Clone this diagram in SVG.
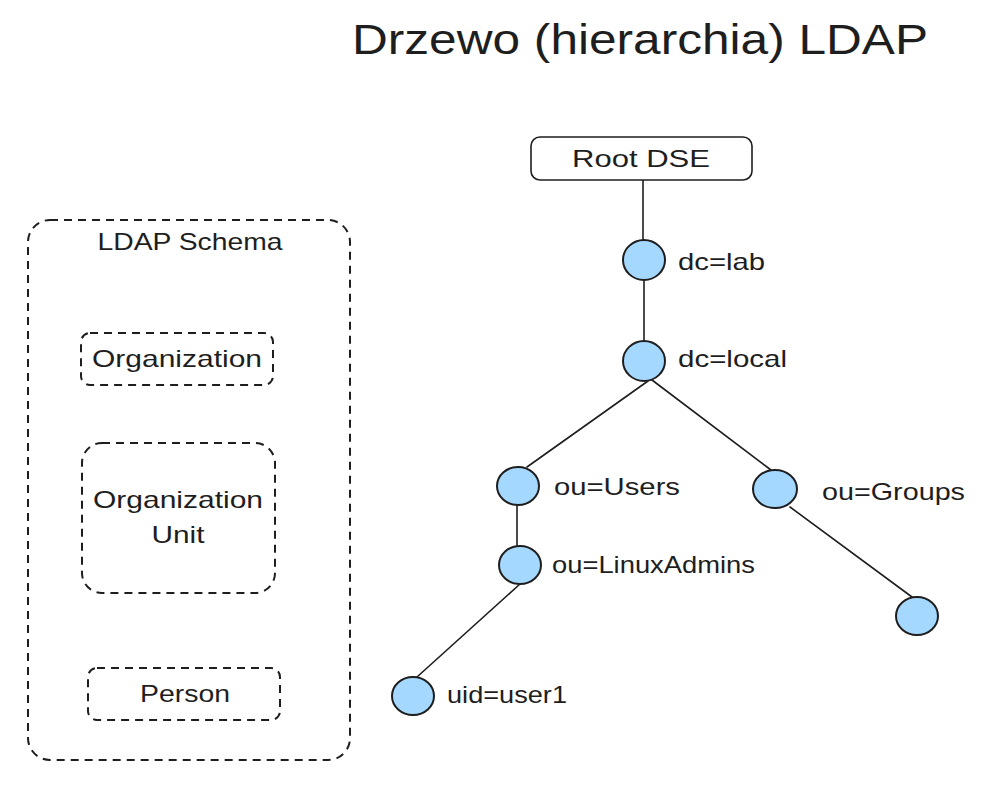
<svg xmlns="http://www.w3.org/2000/svg" width="1003" height="801" viewBox="0 0 1003 801">
<style>
text{font-family:"Liberation Sans",Arial,sans-serif;fill:#1e1e1e;font-size:24px}
.t{font-size:42px}
.dash{fill:none;stroke:#1e1e1e;stroke-width:2;stroke-dasharray:8 6}
.node{fill:#a5d8ff;stroke:#1e1e1e;stroke-width:2}
.box{fill:#fff;stroke:#1e1e1e;stroke-width:1.6}
.edge{fill:none;stroke:#1e1e1e;stroke-width:1.6;stroke-linecap:round}
</style>
<rect width="1003" height="801" fill="#fff"/>
<text class="t" x="352" y="54" textLength="576" lengthAdjust="spacingAndGlyphs">Drzewo (hierarchia) LDAP</text>
<g id="connectors">
<line class="edge" x1="643" y1="180" x2="643" y2="240"/>
<line class="edge" x1="644" y1="281" x2="644" y2="340"/>
<line class="edge" x1="648" y1="381" x2="527" y2="467"/>
<line class="edge" x1="652" y1="380" x2="771" y2="470"/>
<line class="edge" x1="517" y1="506" x2="517" y2="546"/>
<line class="edge" x1="790" y1="507" x2="912" y2="597"/>
<line class="edge" x1="520" y1="584" x2="417" y2="677"/>
</g>
<g id="schema">
<rect class="dash" x="28" y="220" width="322" height="540" rx="22"/>
<text x="190" y="250" text-anchor="middle" textLength="185" lengthAdjust="spacingAndGlyphs">LDAP Schema</text>
</g>
<g id="organization">
<rect class="dash" x="81" y="333" width="192" height="52" rx="9"/>
<text x="177" y="367" text-anchor="middle" textLength="170" lengthAdjust="spacingAndGlyphs">Organization</text>
</g>
<g id="orgunit">
<rect class="dash" x="82" y="443" width="193" height="150" rx="20"/>
<text x="178" y="508" text-anchor="middle" textLength="170" lengthAdjust="spacingAndGlyphs">Organization</text>
<text x="178" y="543" text-anchor="middle" textLength="53" lengthAdjust="spacingAndGlyphs">Unit</text>
</g>
<g id="person">
<rect class="dash" x="88" y="668" width="192" height="52" rx="9"/>
<text x="185" y="702" text-anchor="middle" textLength="90" lengthAdjust="spacingAndGlyphs">Person</text>
</g>
<g id="root">
<rect class="box" x="531" y="137" width="221" height="43" rx="9"/>
<text x="641" y="167" text-anchor="middle" textLength="138" lengthAdjust="spacingAndGlyphs">Root DSE</text>
</g>
<g id="dc-lab">
<ellipse class="node" cx="644" cy="260" rx="21" ry="20"/>
<text x="678" y="270" textLength="87" lengthAdjust="spacingAndGlyphs">dc=lab</text>
</g>
<g id="dc-local">
<ellipse class="node" cx="644" cy="361" rx="21" ry="20"/>
<text x="678" y="367" textLength="109" lengthAdjust="spacingAndGlyphs">dc=local</text>
</g>
<g id="ou-users">
<ellipse class="node" cx="518" cy="486" rx="21" ry="19"/>
<text x="554" y="495" textLength="126" lengthAdjust="spacingAndGlyphs">ou=Users</text>
</g>
<g id="ou-groups">
<ellipse class="node" cx="775" cy="489" rx="22" ry="19"/>
<text x="822" y="500" textLength="143" lengthAdjust="spacingAndGlyphs">ou=Groups</text>
</g>
<g id="ou-linuxadmins">
<ellipse class="node" cx="520" cy="565" rx="21" ry="19"/>
<text x="552" y="573" textLength="203" lengthAdjust="spacingAndGlyphs">ou=LinuxAdmins</text>
</g>
<g id="group-child">
<ellipse class="node" cx="917" cy="616" rx="21" ry="19"/>
</g>
<g id="uid-user1">
<ellipse class="node" cx="413" cy="696" rx="21" ry="19"/>
<text x="447" y="703" textLength="120" lengthAdjust="spacingAndGlyphs">uid=user1</text>
</g>
</svg>
